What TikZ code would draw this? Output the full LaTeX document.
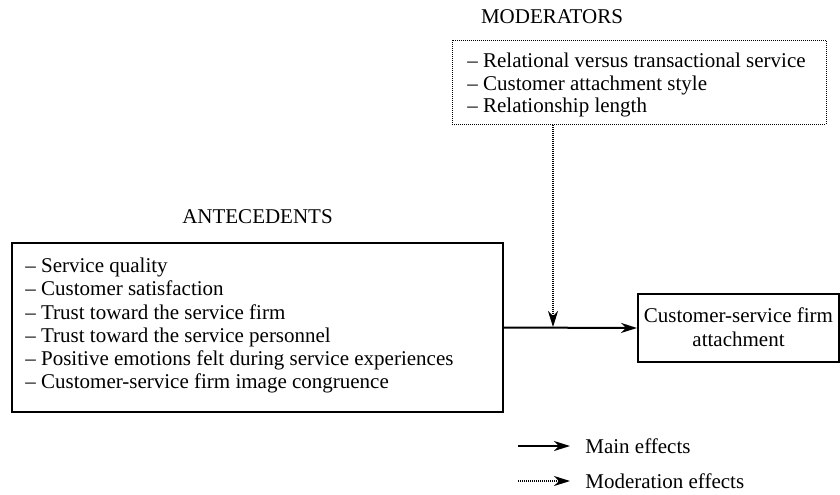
\documentclass[tikz,border=0pt]{standalone}
\usepackage{fontspec}
\setmainfont{Liberation Serif}
\usetikzlibrary{arrows.meta,fit}
\tikzset{
  solidbox/.style={draw, line width=1pt, inner sep=0pt},
  dotbox/.style={draw, line width=0.5pt, dash pattern=on 0.5pt off 0.5pt, inner sep=0pt},
  label/.style={inner sep=0pt, font=\fontsize{10.5}{12}\selectfont},
  listtext/.style={inner sep=0pt, align=left, font=\fontsize{10.5}{11.6}\selectfont},
  mainarrow/.style={line width=1pt, -{Stealth[length=8pt,width=5pt,inset=2.5pt]}},
  modarrow/.style={line width=0.6pt, dash pattern=on 0.5pt off 0.5pt, -{Stealth[length=8pt,width=5pt,inset=2.5pt,line width=0.6pt]}},
}
\begin{document}
\begin{tikzpicture}[x=0.5pt,y=-0.5pt]
\useasboundingbox (0,0) rectangle (840,494);
% labels
\node[label, anchor=base] (modlabel) at (552,23) {MODERATORS};
\node[label, anchor=base] (antlabel) at (257.5,223) {ANTECEDENTS};
% moderators box
\node[dotbox, fit={(452,40) (826,124)}] (mod) {};
\node[listtext, anchor=north west, font=\fontsize{10.5}{11.3}\selectfont] (modtext) at (467,52.7)
  {-- Relational versus transactional service\\-- Customer attachment style\\-- Relationship length};
% antecedents box
\node[solidbox, fit={(12,243) (503,412)}] (ant) {};
\node[listtext, anchor=north west] (anttext) at (25,257.7)
  {-- Service quality\\-- Customer satisfaction\\-- Trust toward the service firm\\-- Trust toward the service personnel\\-- Positive emotions felt during service experiences\\-- Customer-service firm image congruence};
% outcome box
\node[solidbox, fit={(638,294) (839,362)}] (cust) {};
\node[listtext, align=center, anchor=north] (custtext) at (738.5,307.7)
  {Customer-service firm\\attachment};
% main effect
\draw[mainarrow] (ant.east) -- (cust.west);
% moderation
\coordinate (mx) at (553,327);
\draw[modarrow] (mod.south -| mx) -- (mx);
% legend
\coordinate (l1s) at (518,446);
\coordinate (l1e) at (570,446);
\coordinate (l2s) at (518,481);
\coordinate (l2e) at (570,481);
\draw[mainarrow] (l1s) -- (l1e);
\draw[modarrow] (l2s) -- (l2e);
\node[label, anchor=base west] (leg1) at (585,453) {Main effects};
\node[label, anchor=base west] (leg2) at (585,488) {Moderation effects};
\end{tikzpicture}
\end{document}
